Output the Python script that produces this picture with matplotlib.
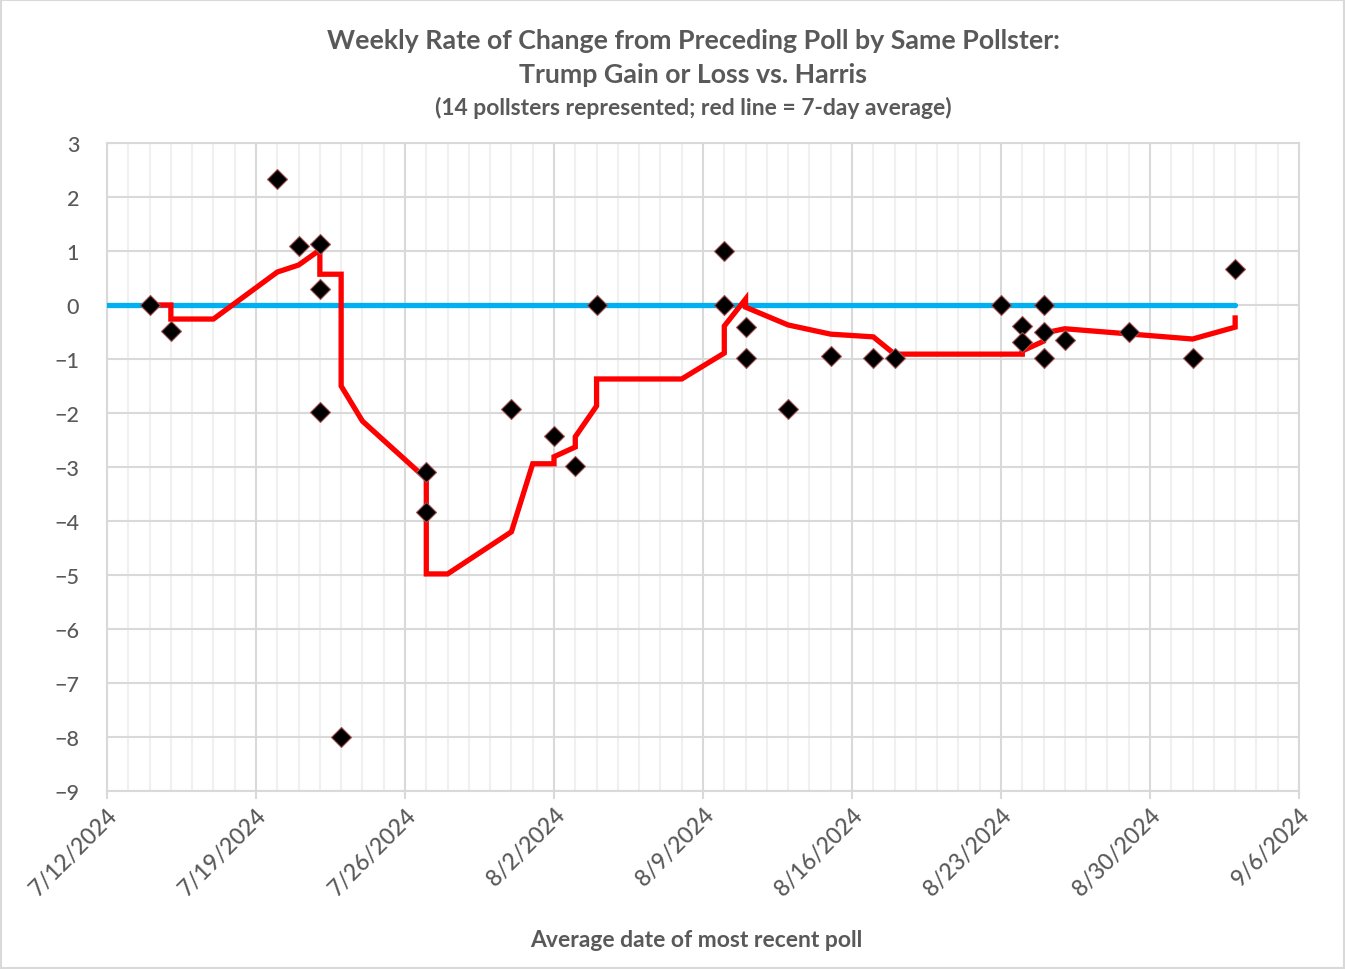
import numpy as np
import pandas as pd
import matplotlib
matplotlib.use('Agg')
import matplotlib.pyplot as plt

plt.rcParams['font.family'] = ['Lato', 'DejaVu Sans']

# poll changes (date of most recent poll, Trump gain/loss vs Harris)
poll_dates = ['2024-07-14', '2024-07-15', '2024-07-20', '2024-07-21', '2024-07-22',
              '2024-07-22', '2024-07-22', '2024-07-23', '2024-07-27', '2024-07-27',
              '2024-07-31', '2024-08-02', '2024-08-03', '2024-08-04', '2024-08-10',
              '2024-08-10', '2024-08-11', '2024-08-11', '2024-08-13', '2024-08-15',
              '2024-08-17', '2024-08-18', '2024-08-23', '2024-08-24', '2024-08-24',
              '2024-08-25', '2024-08-25', '2024-08-25', '2024-08-26', '2024-08-29',
              '2024-09-01', '2024-09-03']
poll_change = [0, -0.48, 2.33, 1.09, 1.13,
               0.3, -1.98, -8, -3.09, -3.83,
               -1.93, -2.43, -2.98, 0, 1.0,
               0, -0.4, -0.98, -1.93, -0.95,
               -0.98, -0.98, 0, -0.38, -0.69,
               0, -0.5, -0.98, -0.65, -0.5,
               -0.98, 0.67]

# 7-day average (red line)
avg_dates = ['2024-07-14', '2024-07-15', '2024-07-15', '2024-07-17', '2024-07-20',
             '2024-07-21', '2024-07-22', '2024-07-22', '2024-07-23', '2024-07-23',
             '2024-07-24', '2024-07-27', '2024-07-27', '2024-07-28', '2024-07-31',
             '2024-08-01', '2024-08-02', '2024-08-02', '2024-08-03', '2024-08-03',
             '2024-08-04', '2024-08-04', '2024-08-08', '2024-08-10', '2024-08-10',
             '2024-08-11', '2024-08-11', '2024-08-13', '2024-08-15', '2024-08-17',
             '2024-08-18', '2024-08-23', '2024-08-24', '2024-08-24', '2024-08-25',
             '2024-08-25', '2024-08-26', '2024-09-01', '2024-09-03', '2024-09-03']
avg_change = [0, 0, -0.26, -0.26, 0.61,
              0.74, 1.02, 0.57, 0.57, -1.5,
              -2.15, -3.22, -4.98, -4.98, -4.2,
              -2.94, -2.94, -2.81, -2.63, -2.44,
              -1.87, -1.37, -1.37, -0.89, -0.39,
              0.11, -0.04, -0.37, -0.54, -0.59,
              -0.91, -0.91, -0.91, -0.85, -0.67,
              -0.52, -0.44, -0.63, -0.41, -0.24]

zero_dates = ['2024-07-12', '2024-09-03']
zero_vals = [0, 0]

x_start, x_end = '2024-07-12', '2024-09-06'

grey = '#595959'

fig = plt.figure(figsize=(13.45, 9.70), dpi=100)
ax = fig.add_axes([107/1345, 1-792/970, (1299-107)/1345, (792-144)/970])

ax.plot(pd.to_datetime(zero_dates), zero_vals, color='#00B0F0', lw=3.8,
        solid_capstyle='round', zorder=3)
ax.plot(pd.to_datetime(avg_dates), avg_change, color='#FF0000', lw=3.8,
        solid_joinstyle='miter', zorder=4)
ax.plot(pd.to_datetime(poll_dates), poll_change, ls='none', marker='D',
        ms=10, mfc='black', mec='#A05050', mew=0.8, zorder=5)

major = pd.date_range(x_start, x_end, freq='7D')
ax.set_xlim(pd.Timestamp(x_start), pd.Timestamp(x_end))
ax.set_ylim(-9, 3)
ax.set_yticks(np.arange(-9, 4, 1))
ax.set_xticks(major)
ax.set_xticks(pd.date_range(x_start, x_end, freq='1D'), minor=True)
ax.set_xticklabels([f'{d.month}/{d.day}/{d.year}' for d in major],
                   rotation=45, ha='right', va='top', rotation_mode='anchor')

ax.grid(which='major', color='#D9D9D9', lw=1.5, zorder=0)
ax.grid(which='minor', axis='x', color='#F0F0F0', lw=1.5, zorder=0)
ax.set_axisbelow(True)
for s in ax.spines.values():
    s.set_color('#D9D9D9')
    s.set_linewidth(1.5)

ax.tick_params(axis='y', which='both', length=0, labelsize=15.5, labelcolor=grey, pad=20)
ax.tick_params(axis='x', which='major', length=6, color='#D9D9D9', width=1.5,
               labelsize=16.5, labelcolor=grey, pad=3)
ax.tick_params(axis='x', which='minor', length=0)
for lab in ax.get_xticklabels() + ax.get_yticklabels():
    lab.set_fontweight('medium')

fig.text(0.518, 1-941/970, 'Average date of most recent poll', ha='center', va='center',
         fontsize=16.5, color=grey, fontweight='bold')

fig.text(0.5155, 0.958, 'Weekly Rate of Change from Preceding Poll by Same Pollster:',
         ha='center', va='center', fontsize=19.3, color=grey, fontweight='bold')
fig.text(0.5155, 0.923, 'Trump Gain or Loss vs. Harris',
         ha='center', va='center', fontsize=19.3, color=grey, fontweight='bold')
fig.text(0.5155, 0.889, '(14 pollsters represented; red line = 7-day average)',
         ha='center', va='center', fontsize=16.5, color=grey, fontweight='bold')

fig.patches.append(plt.Rectangle((0.001, 0.001), 0.998, 0.998, transform=fig.transFigure,
                                 fill=False, ec='#D9D9D9', lw=1.5))

fig.savefig('out.png', dpi=100)
